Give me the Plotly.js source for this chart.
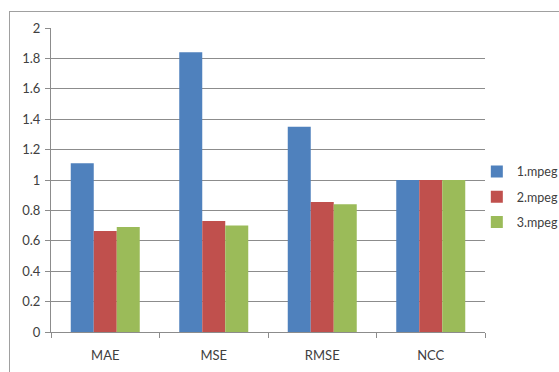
<!DOCTYPE html>
<html>
<head>
<meta charset="utf-8">
<script src="https://cdn.plot.ly/plotly-3.0.1.min.js"></script>
<style>
html,body{margin:0;padding:0;background:#fff;}
#wrap{position:relative;width:559px;height:372px;overflow:hidden;}
#frame{position:absolute;left:9px;top:11px;width:600px;height:400px;border:1px solid #a0a0a0;box-sizing:border-box;}
#chart{position:absolute;left:0;top:0;width:559px;height:372px;}
</style>
</head>
<body>
<div id="wrap"><div id="frame"></div><div id="chart"></div></div>
<script>
const categories = ["MAE", "MSE", "RMSE", "NCC"];
const seriesNames = ["1.mpeg", "2.mpeg", "3.mpeg"];
const mpeg1 = [1.11, 1.84, 1.35, 1.0];
const mpeg2 = [0.665, 0.73, 0.855, 1.0];
const mpeg3 = [0.69, 0.70, 0.84, 1.0];
const colors = ["#4F81BD", "#C0504D", "#9BBB59"];
const yTicks = [0, 0.2, 0.4, 0.6, 0.8, 1, 1.2, 1.4, 1.6, 1.8, 2];

const values = [mpeg1, mpeg2, mpeg3];
const traces = values.map((v, i) => ({
  type: "bar",
  x: categories,
  y: v,
  name: seriesNames[i],
  legendgroup: "g" + i,
  marker: {color: colors[i], line: {width: 0}},
  hoverinfo: "skip"
}));

const font = {family: "Lato, Open Sans, sans-serif", size: 13, color: "#404040"};
const layout = {
  width: 559, height: 372,
  margin: {l: 51, r: 74, t: 28, b: 40, autoexpand: false},
  paper_bgcolor: "rgba(0,0,0,0)",
  plot_bgcolor: "rgba(0,0,0,0)",
  font: font,
  barmode: "group",
  bargap: 0.364,
  bargroupgap: 0,
  showlegend: true,
  legend: {
    xref: "container", yref: "container",
    x: 0.853, y: 0.578, xanchor: "left", yanchor: "top",
    traceorder: "grouped", tracegroupgap: 6,
    font: {family: font.family, size: 12.5, color: "#404040"},
    itemwidth: 30, bgcolor: "rgba(0,0,0,0)"
  },
  xaxis: {
    type: "category",
    showgrid: false,
    showline: true, linecolor: "#8c8c8c", linewidth: 1,
    ticks: "outside", ticklen: 5, tickcolor: "#8c8c8c",
    tickson: "boundaries",
    ticklabelstandoff: 11,
    tickfont: font,
    fixedrange: true
  },
  yaxis: {
    range: [0, 2],
    tickvals: yTicks,
    ticktext: yTicks.map(String),
    showgrid: true, gridcolor: "#8c8c8c", gridwidth: 1,
    showline: true, linecolor: "#8c8c8c", linewidth: 1,
    ticks: "outside", ticklen: 5, tickcolor: "#8c8c8c",
    ticklabelstandoff: 2,
    zeroline: false,
    tickfont: font,
    fixedrange: true
  }
};
Plotly.newPlot("chart", traces, layout, {staticPlot: true, displayModeBar: false});
</script>
</body>
</html>
